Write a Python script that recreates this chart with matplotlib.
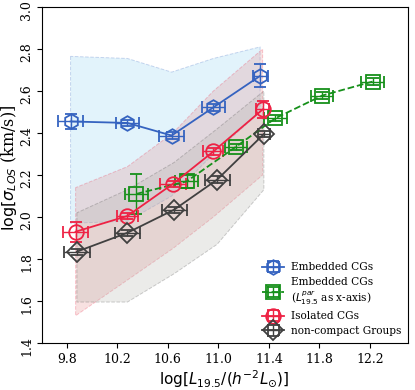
"""
Velocity dispersion vs group luminosity for compact and non-compact groups.
"""
import matplotlib
matplotlib.use("Agg")
import matplotlib.pyplot as plt
from matplotlib.transforms import offset_copy

# Embedded CGs
emb_x = [9.83, 10.28, 10.63, 10.96, 11.33]
emb_y = [2.455, 2.448, 2.388, 2.522, 2.672]
emb_yerr = [0.035, 0.015, 0.015, 0.015, 0.055]
emb_xerr = [0.10, 0.09, 0.10, 0.09, 0.06]
emb_lo = [1.97, 1.98, 2.10, 2.30, 2.50]
emb_hi = [2.765, 2.755, 2.69, 2.755, 2.81]

# Embedded CGs with parent-group luminosity as x-axis
par_x = [10.35, 10.75, 11.14, 11.45, 11.82, 12.22]
par_y = [2.11, 2.17, 2.335, 2.47, 2.578, 2.645]
par_yerr = [0.095, 0.03, 0.015, 0.015, 0.015, 0.015]
par_xerr = [0.09, 0.09, 0.09, 0.09, 0.09, 0.09]

# Isolated CGs
iso_x = [9.87, 10.28, 10.64, 10.96, 11.35]
iso_y = [1.93, 2.005, 2.158, 2.312, 2.512]
iso_yerr = [0.047, 0.015, 0.015, 0.015, 0.04]
iso_xerr = [0.10, 0.08, 0.10, 0.08, 0.05]
iso_lo = [1.53, 1.70, 1.85, 2.00, 2.20]
iso_hi = [2.14, 2.24, 2.40, 2.60, 2.80]

# non-compact groups
ncg_x = [9.88, 10.28, 10.65, 10.99, 11.36]
ncg_y = [1.835, 1.925, 2.035, 2.178, 2.395]
ncg_yerr = [0.015, 0.015, 0.015, 0.015, 0.015]
ncg_xerr = [0.10, 0.10, 0.10, 0.10, 0.05]
ncg_lo = [1.595, 1.595, 1.73, 1.87, 2.13]
ncg_hi = [2.02, 2.13, 2.26, 2.42, 2.60]

x_ticks = [9.8, 10.2, 10.6, 11.0, 11.4, 11.8, 12.2]
y_ticks = [1.4, 1.6, 1.8, 2.0, 2.2, 2.4, 2.6, 2.8, 3.0]

BLUE = "#3563c0"
GREEN = "#16901a"
RED = "#ee2244"
GRAY = "#404040"

plt.rcParams["font.family"] = ["DejaVu Serif"]
plt.rcParams["mathtext.fontset"] = "dejavusans"

fig = plt.figure(figsize=(4.15, 3.9), dpi=100)
ax = fig.add_axes([0.1, 0.1205, 0.883, 0.8615])

# shaded bands
ax.fill_between(emb_x, emb_lo, emb_hi, color="#8fd3f0", alpha=0.25,
                edgecolor=BLUE, linestyle="--", linewidth=0.7, zorder=1)
ax.fill_between(iso_x, iso_lo, iso_hi, color="#e58a8a", alpha=0.25,
                edgecolor=RED, linestyle="--", linewidth=0.7, zorder=1)
ax.fill_between(ncg_x, ncg_lo, ncg_hi, color="#b0b0a8", alpha=0.25,
                edgecolor=GRAY, linestyle="--", linewidth=0.7, zorder=1)

common = dict(mfc="none", capsize=4, elinewidth=1.0, capthick=1.0,
              mew=1.3, lw=1.3, zorder=5)
ax.errorbar(emb_x, emb_y, yerr=emb_yerr, xerr=emb_xerr, fmt="h-",
            color=BLUE, ms=10.5, label="Embedded CGs", **common)
ax.errorbar(par_x, par_y, yerr=par_yerr, xerr=par_xerr, fmt="s--",
            color=GREEN, ms=10.5,
            label="Embedded CGs\n($L_{19.5}^{par}$ as x-axis)", **common)
ax.errorbar(iso_x, iso_y, yerr=iso_yerr, xerr=iso_xerr, fmt="o-",
            color=RED, ms=10.5, label="Isolated CGs", **common)
ax.errorbar(ncg_x, ncg_y, yerr=ncg_yerr, xerr=ncg_xerr, fmt="D-",
            color=GRAY, ms=10, label="non-compact Groups", **common)

ax.set_xlim(9.6, 12.5)
ax.set_ylim(1.4, 3.0)
ax.set_xticks(x_ticks, [f"{t:.1f}" for t in x_ticks])
ax.set_yticks(y_ticks, [])
ax.tick_params(direction="out", length=3.5, width=0.8, labelsize=9)

# vertical y tick labels, drawn as texts next to the ticks
ytrans = offset_copy(ax.get_yaxis_transform(), fig=fig, x=0, y=-3.5,
                     units="dots")
for t in y_ticks:
    ax.text(-0.022, t, f"{t:.1f}", transform=ytrans,
            rotation=90, ha="right", va="center", fontsize=9)

ax.set_xlabel(r"$\log[L_{19.5}/(h^{-2}L_{\odot})]$", fontsize=11, labelpad=2)
ax.set_ylabel(r"$\log[\sigma_{LOS}$ (km/s)]", fontsize=11.5)
ax.yaxis.set_label_coords(-0.062, 0.52)

ax.legend(loc="lower right", frameon=False, fontsize=7.6, handlelength=2.1,
          labelspacing=0.45, borderaxespad=0.25, handletextpad=0.6)

fig.savefig("out.png", dpi=100)
